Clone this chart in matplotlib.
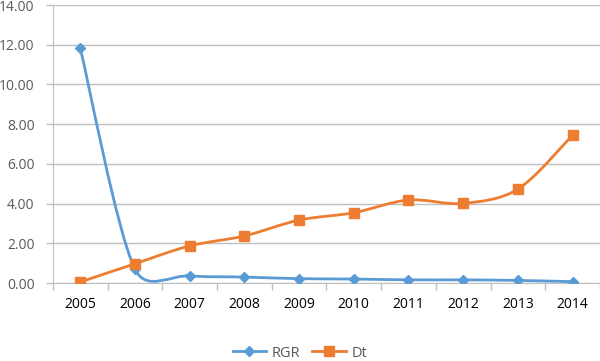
import matplotlib.pyplot as plt
import numpy as np
from matplotlib.path import Path
from matplotlib.patches import PathPatch
from matplotlib.lines import Line2D

plt.rcParams['font.family'] = ['Open Sans', 'DejaVu Sans']

years = ['2005', '2006', '2007', '2008', '2009', '2010', '2011', '2012', '2013', '2014']
rgr = [11.85, 0.70, 0.36, 0.30, 0.22, 0.20, 0.16, 0.16, 0.13, 0.07]
dt = [0.05, 0.97, 1.87, 2.37, 3.17, 3.54, 4.18, 4.01, 4.73, 7.45]

blue = '#5B9BD5'
orange = '#ED7D31'
grid = '#bfbfbf'
txt = '#595959'


def smooth_path(ax, xs, ys):
    # smoothed line like the office charts: bezier pieces, tangents damped
    # where neighbouring segments have very different lengths (in pixels)
    pts = np.column_stack([xs, ys]).astype(float)
    pix = ax.transData.transform(pts)
    n = len(pts)

    def ctrl(i, j):
        # control offset at point i, heading towards neighbour j
        a = max(i - 1, 0)
        b = min(i + 1, n - 1)
        t = pts[b] - pts[a]
        d_near = np.hypot(*(pix[j] - pix[i]))
        d_far = np.hypot(*(pix[i] - pix[2 * i - j])) if 0 <= 2 * i - j < n else d_near
        f = min(1.0, np.sqrt(2 * d_near / (d_near + d_far)))
        return t * f / 6

    verts = [pts[0]]
    codes = [Path.MOVETO]
    for i in range(n - 1):
        c1 = pts[i] + ctrl(i, i + 1)
        c2 = pts[i + 1] - ctrl(i + 1, i)
        verts += [c1, c2, pts[i + 1]]
        codes += [Path.CURVE4] * 3
    return Path(verts, codes)


fig = plt.figure(figsize=(6, 3.61), dpi=100)
ax = fig.add_axes([0.088, 0.216, 0.912, 0.770])

x = np.arange(len(years))
ax.set_xlim(-0.5, len(years) - 0.5)
ax.set_ylim(0, 14)

for vals, col, mk, ms in [(rgr, blue, 'D', 5), (dt, orange, 's', 7)]:
    ax.add_patch(PathPatch(smooth_path(ax, x, vals), fill=False, edgecolor=col, lw=2, zorder=3))
    ax.plot(x, vals, linestyle='none', marker=mk, ms=ms, color=col, zorder=4)

ax.set_yticks(np.arange(0, 15, 2))
ax.set_yticklabels(['%.2f' % v for v in np.arange(0, 15, 2)])
ax.yaxis.grid(True, color=grid, lw=1)
ax.set_axisbelow(True)

ax.set_xticks(np.arange(-0.5, len(years), 1))
ax.set_xticklabels([])
ax.set_xticks(x, minor=True)
ax.set_xticklabels(years, minor=True)
ax.tick_params(axis='x', which='major', length=5, color=grid, width=1)
ax.tick_params(axis='x', which='minor', length=0, pad=10)
ax.tick_params(axis='y', length=5, color=grid, width=1, pad=8)
ax.tick_params(labelsize=10, labelcolor=txt)

for s in ['top', 'right']:
    ax.spines[s].set_visible(False)
for s in ['left', 'bottom']:
    ax.spines[s].set_color(grid)

handles = [Line2D([], [], color=blue, lw=2, marker='D', ms=5),
           Line2D([], [], color=orange, lw=2, marker='s', ms=7)]
fig.legend(handles, ['RGR', 'Dt'], loc='center', bbox_to_anchor=(0.5, 0.022), ncol=2,
           frameon=False, fontsize=10.5, labelcolor=txt, handlelength=2.3,
           handletextpad=0.4, columnspacing=0.8)

fig.savefig('out.png', dpi=100)
